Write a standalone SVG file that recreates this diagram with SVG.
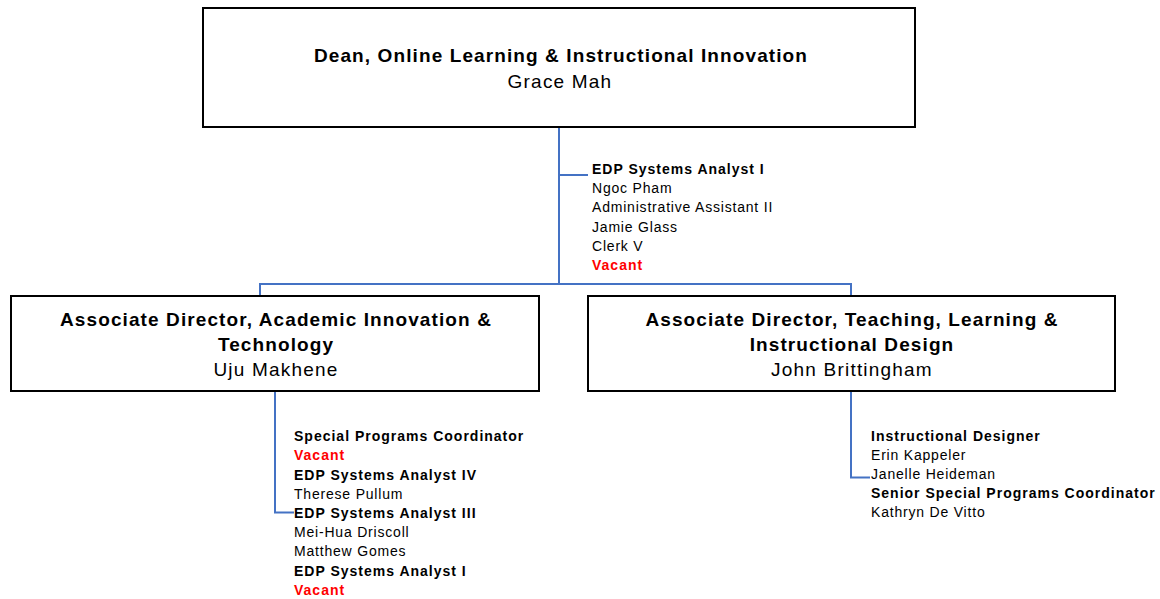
<svg xmlns="http://www.w3.org/2000/svg" width="1160" height="599" viewBox="0 0 1160 599">
<style>
.box{fill:#fff;stroke:#000;stroke-width:2}
.conn{fill:none;stroke:#4472C4;stroke-width:2}
.t{font-family:"Liberation Sans",Arial,sans-serif;font-size:19px;font-weight:bold;fill:#000;text-anchor:middle;letter-spacing:1.1px}
.n{font-family:"Liberation Sans",Arial,sans-serif;font-size:19px;fill:#000;text-anchor:middle;letter-spacing:1.2px}
.sb{font-family:"Liberation Sans",Arial,sans-serif;font-size:14px;font-weight:bold;fill:#000;letter-spacing:1px}
.sr{font-family:"Liberation Sans",Arial,sans-serif;font-size:14px;fill:#000;letter-spacing:0.8px}
.v{font-family:"Liberation Sans",Arial,sans-serif;font-size:14px;font-weight:bold;fill:#FF0000;letter-spacing:1px}
</style>
<rect width="1160" height="599" fill="#fff"/>
<g id="connectors">
<path class="conn" d="M559 127V284M559 175H588M260 296V284H851V296"/>
<path class="conn" d="M275 391V512.5H294"/>
<path class="conn" d="M851 391V477.5H870"/>
</g>
<g id="dean">
<rect class="box" x="203" y="8" width="712" height="119"/>
<text class="t" x="561" y="62">Dean, Online Learning &amp; Instructional Innovation</text>
<text class="n" x="560" y="88">Grace Mah</text>
</g>
<g id="dean-staff">
<text class="sb" x="592" y="174">EDP Systems Analyst I</text>
<text class="sr" x="592" y="193">Ngoc Pham</text>
<text class="sr" x="592" y="212">Administrative Assistant II</text>
<text class="sr" x="592" y="231.5">Jamie Glass</text>
<text class="sr" x="592" y="250.5">Clerk V</text>
<text class="v" x="592" y="270">Vacant</text>
</g>
<g id="ad-academic">
<rect class="box" x="11" y="296" width="528" height="95"/>
<text class="t" x="276" y="326">Associate Director, Academic Innovation &amp;</text>
<text class="t" x="276" y="351">Technology</text>
<text class="n" x="276" y="376">Uju Makhene</text>
</g>
<g id="ad-teaching">
<rect class="box" x="588" y="296" width="527" height="95"/>
<text class="t" x="852" y="326">Associate Director, Teaching, Learning &amp;</text>
<text class="t" x="852" y="351">Instructional Design</text>
<text class="n" x="852" y="376">John Brittingham</text>
</g>
<g id="academic-staff">
<text class="sb" x="294" y="441">Special Programs Coordinator</text>
<text class="v" x="294" y="460">Vacant</text>
<text class="sb" x="294" y="479.5">EDP Systems Analyst IV</text>
<text class="sr" x="294" y="498.5">Therese Pullum</text>
<text class="sb" x="294" y="517.5">EDP Systems Analyst III</text>
<text class="sr" x="294" y="537">Mei-Hua Driscoll</text>
<text class="sr" x="294" y="556">Matthew Gomes</text>
<text class="sb" x="294" y="575.5">EDP Systems Analyst I</text>
<text class="v" x="294" y="594.5">Vacant</text>
</g>
<g id="teaching-staff">
<text class="sb" x="871" y="441">Instructional Designer</text>
<text class="sr" x="871" y="460">Erin Kappeler</text>
<text class="sr" x="871" y="479">Janelle Heideman</text>
<text class="sb" x="871" y="498">Senior Special Programs Coordinator</text>
<text class="sr" x="871" y="517">Kathryn De Vitto</text>
</g>
</svg>
